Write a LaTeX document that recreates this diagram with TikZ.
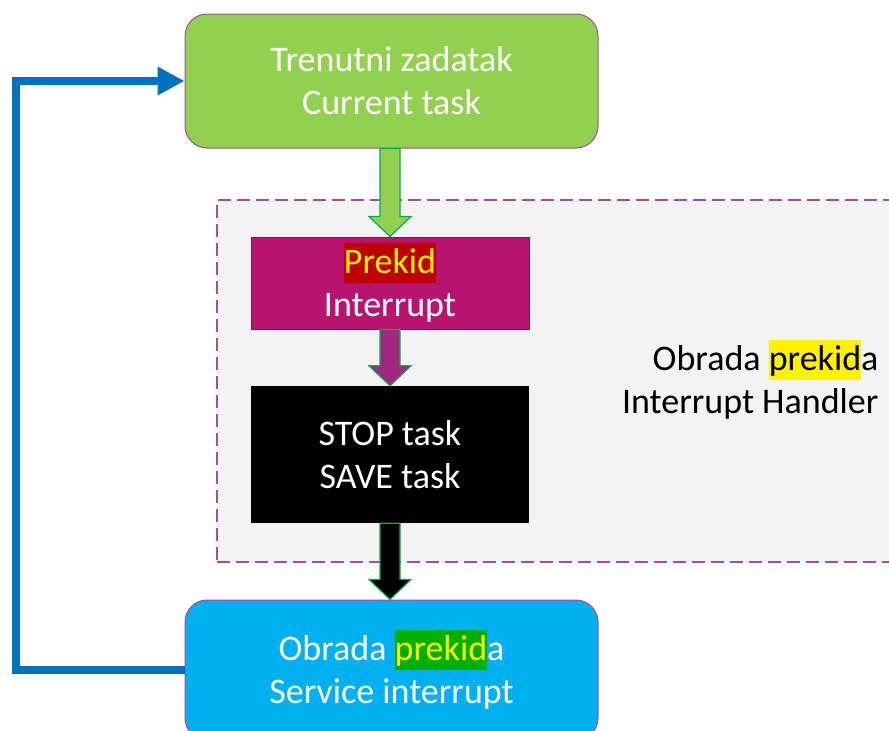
\documentclass[tikz,border=0pt]{standalone}
\usepackage{fontspec}
\setmainfont{Carlito}
\usetikzlibrary{calc,arrows.meta}
\definecolor{cgreen}{HTML}{92D050}
\definecolor{cgreenline}{HTML}{00B050}
\definecolor{cmag}{HTML}{B8136F}
\definecolor{cmagdark}{HTML}{8E0E56}
\definecolor{cpurplearrow}{HTML}{A0267E}
\definecolor{cblue}{HTML}{00B0F0}
\definecolor{cline}{HTML}{0070C0}
\definecolor{cborder}{HTML}{A64D9B}
\definecolor{cgray}{HTML}{F3F3F3}
\definecolor{cdarkred}{HTML}{C00000}
\definecolor{chlgreen}{HTML}{00B000}
\newcommand\hlbox[2]{{\setlength{\fboxsep}{0pt}\colorbox{#1}{\rule[-0.25em]{0pt}{1.1em}#2}}}
\newcommand\blkarrow[3]{%
  \filldraw[#3, line width=1.2pt] let \p1=(#1), \p2=(#2) in
    (\x1-10pt,\y1) -- (\x1+10pt,\y1) -- (\x1+10pt,\y2+20pt) -- (\x1+21pt,\y2+20pt)
    -- (\x1,\y2) -- (\x1-21pt,\y2+20pt) -- (\x1-10pt,\y2+20pt) -- cycle;}
\begin{document}
\begin{tikzpicture}[x=1pt,y=-1pt,
  txt/.style={font=\fontsize{36}{43}\selectfont, align=center, text=white},
  roundbox/.style={draw=cborder, line width=1pt, rounded corners=22pt, minimum width=413pt, inner sep=0pt},
  sqbox/.style={minimum width=278pt, inner sep=0pt}]
\useasboundingbox (0,0) rectangle (889,731);
\fill[white] (0,0) rectangle (889,731);
% dashed region
\node[draw=cborder, fill=cgray, dash pattern=on 13pt off 6pt, line width=1.5pt,
  minimum width=700pt, minimum height=362pt, anchor=north west, inner sep=0pt] (region) at (216,199) {};
\node[font=\fontsize{36}{43}\selectfont, align=right, anchor=east, text=black] (handler) at (882,380)
  {Obrada \hlbox{yellow}{prekid}a\\Interrupt Handler};
% boxes
\node[roundbox, fill=cgreen, minimum height=134pt, txt] (green) at (391.5,81)
  {Trenutni zadatak\\Current task};
\node[sqbox, fill=cmag, draw=cmagdark, line width=1pt, minimum height=92pt, txt] (irq) at (390,283)
  {\hlbox{cdarkred}{\textcolor{yellow}{Prekid}}\\Interrupt};
\node[sqbox, fill=black, minimum height=137pt, txt] (stop) at (390,454.5)
  {STOP task\\SAVE task};
\node[roundbox, fill=cblue, minimum height=140pt, txt] (service) at (391.5,670)
  {Obrada \hlbox{chlgreen}{\textcolor{yellow}{prekid}}a\\Service interrupt};
% block arrows
\blkarrow{$(green.south)+(-1.5,0)$}{irq.north}{fill=cgreen, draw=cgreenline}
\blkarrow{irq.south}{stop.north}{fill=cpurplearrow, draw=cgreenline}
\blkarrow{stop.south}{$(service.north)+(-1.5,0)$}{fill=black, draw=cgreenline}
% feedback connector
\draw[cline, line width=8pt, -{Triangle[length=27pt,width=27pt]}]
  (service.west) -- ++(-169,0) |- (green.west);
\end{tikzpicture}
\end{document}
